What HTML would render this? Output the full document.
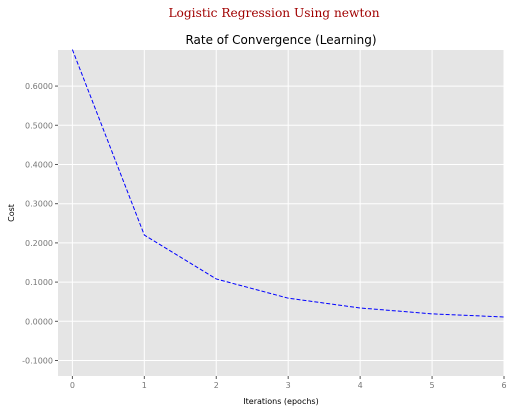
<!DOCTYPE html>
<html><head><meta charset="utf-8"><style>
body{margin:0;background:#fff;width:514px;height:412px;overflow:hidden}
svg text{font-family:"DejaVu Sans","Liberation Sans",sans-serif}
</style></head><body>
<svg width="514" height="412">
<text x="274" y="17" text-anchor="middle" fill="#a00000" font-size="12.2" style="font-family:'DejaVu Serif','Liberation Serif',serif">Logistic Regression Using newton</text>
<text x="281" y="44" text-anchor="middle" fill="#000" font-size="12">Rate of Convergence (Learning)</text>
<rect x="58" y="50" width="446" height="326" fill="#e5e5e5"/>
<g id="grid"></g><g id="ticks"></g>
<path id="line" fill="none" stroke="#0000ff" stroke-width="1" stroke-dasharray="4,2"/>
<text x="281" y="404" text-anchor="middle" font-size="8" fill="#000">Iterations (epochs)</text>
<text transform="translate(14,213) rotate(-90)" text-anchor="middle" font-size="8" fill="#000">Cost</text>
</svg>
<script>
const epochs=[0,1,2,3,4,5,6];
const costs=[0.693,0.220,0.108,0.059,0.034,0.019,0.011];
const xTicks=[0,1,2,3,4,5,6];
const yTicks=[-0.1,0,0.1,0.2,0.3,0.4,0.5,0.6];
const L=58,R=504,T=50,B=376,xmin=-0.2,xmax=6,ymin=-0.1395,ymax=0.692;
const sx=v=>L+(v-xmin)/(xmax-xmin)*(R-L);
const sy=v=>B-(v-ymin)/(ymax-ymin)*(B-T);
const NS="http://www.w3.org/2000/svg";
const g=document.getElementById('grid'),tk=document.getElementById('ticks');
function mk(tag,a,p){const e=document.createElementNS(NS,tag);for(const k in a)e.setAttribute(k,a[k]);p.appendChild(e);return e;}
xTicks.forEach(v=>{const x=sx(v);
 const l=mk('line',{x1:x,x2:x,y1:T,y2:B,stroke:'#fff','stroke-width':1},g);
 
 
 mk('line',{x1:x,x2:x,y1:B,y2:B+3,stroke:'#555'},tk);
 const t=mk('text',{x:x,y:B+12,'text-anchor':'middle','font-size':8,fill:'#777'},tk);t.textContent=v;
 
 });
yTicks.forEach(v=>{const y=sy(v);
 const l=mk('line',{x1:L,x2:R,y1:y,y2:y,stroke:'#fff','stroke-width':1},g);
 
 
 mk('line',{x1:L-3,x2:L,y1:y,y2:y,stroke:'#555'},tk);
 const t=mk('text',{x:L-5,y:y+3,'text-anchor':'end','font-size':8,fill:'#777'},tk);t.textContent=v.toFixed(4);
 
 });
document.getElementById('line').setAttribute('d',epochs.map((e,i)=>(i?'L':'M')+sx(e)+','+sy(costs[i])).join(''));
</script>
</body></html>
